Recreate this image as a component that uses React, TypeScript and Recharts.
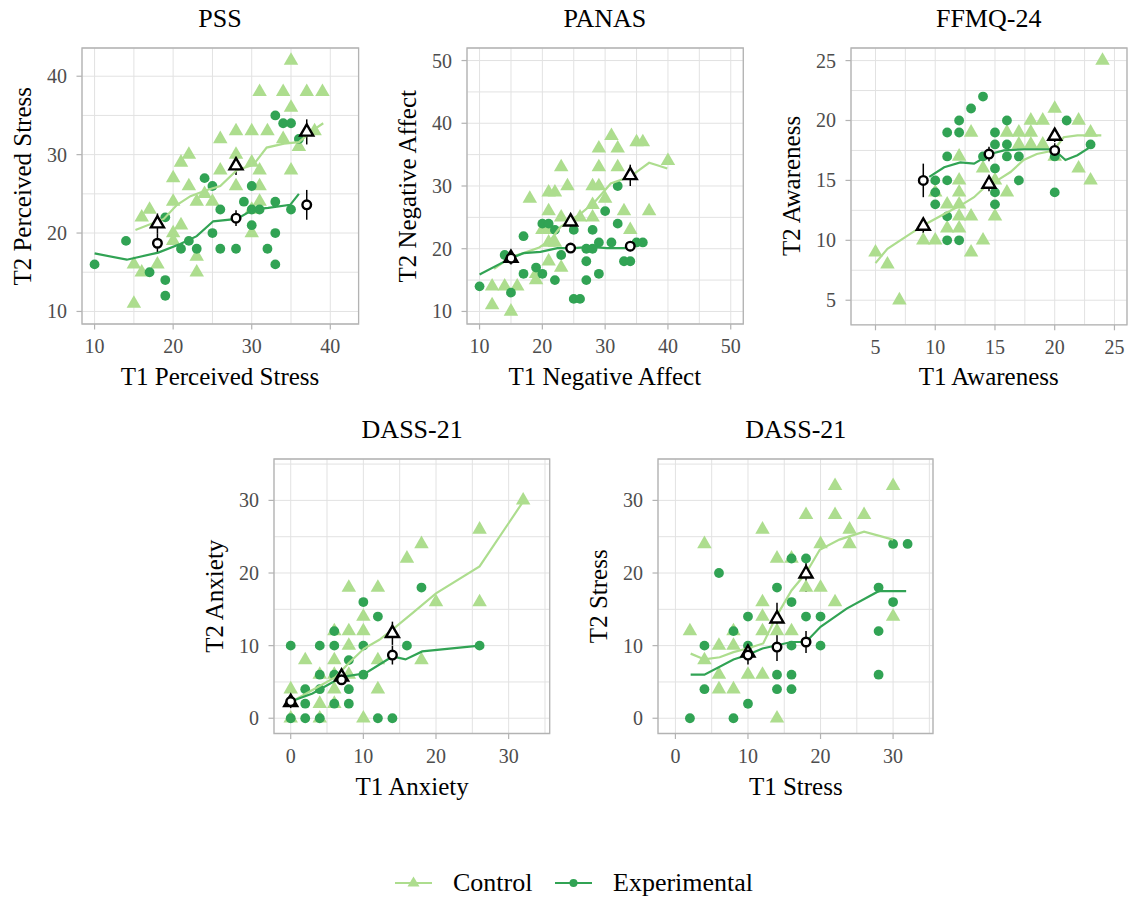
import React from "react";
import { ScatterChart, Scatter, XAxis, YAxis, CartesianGrid, ErrorBar, ReferenceArea } from "recharts";

const LIGHT = "#addd8e";
const DARK = "#31a354";
const FONT = "'Liberation Serif', 'Times New Roman', serif";
const GRID = "#e2e2e2";
const BORDER = "#b3b3b3";
const LEFT_PAD = 80;
const TOP_PAD = 10;

// ---- PSS ----
const pssCtrl = [[35,42],[31,38],[34,38],[37,38],[39,38],[35,36],[26,32],[28,33],[30,33],[32,33],[34,32],[36,31],[38,33],[21,29],[22,30],[28,30],[26,28],[30,29],[31,28],[35,28],[20,27],[22,26],[28,26],[31,26],[24,25],[20,24],[23,24],[25,24],[31,24],[30,23],[16,22],[17,23],[21,21],[20,20],[20,19],[30,20],[15,16],[16,15],[18,16],[23,17],[23,15],[15,11]];
const pssExp = [[10,16],[14,19],[17,15],[19,14],[19,12],[19,22],[21,18],[22,19],[23,18],[25,20],[26,23],[26,18],[28,18],[24,27],[25,26],[29,24],[30,26],[30,23],[31,23],[30,21],[33,24],[33,20],[32,18],[33,16],[35,23],[33,35],[34,34],[35,34],[36,32]];
const pssCtrlLine = [[15.2,20.4],[18.8,21.8],[20.5,23.6],[22.2,24.7],[24.3,25.5],[26,26],[28.1,28],[30.2,28.7],[31.9,30.9],[34.1,31.4],[36,31.6],[37.9,33.2],[39.1,34]];
const pssExpLine = [[10,17.4],[14.1,16.6],[18.1,17.5],[20.9,18.6],[23,19.6],[25.1,21.5],[28.1,21.8],[30.2,23],[32.1,23.2],[34.9,23.6],[36,25]];
const pssCtrlMean = [[18,21.2,1.3],[28,28.6,1.2],[37,32.9,1.6]];
const pssExpMean = [[18,18.7,1.2],[28,21.9,1.0],[37,23.6,1.9]];

// ---- PANAS ----
const panasCtrl = [[31,38],[35,37],[36,37],[29,36],[32,36],[23,33],[29,33],[32,33],[40,34],[21,29],[22,29],[24,30],[28,30],[29,30],[18,28],[30,28],[28,27],[21,26],[33,26],[37,26],[28,25],[23,25],[26,25],[34,23],[20,23],[21,23],[21,21],[22,21],[21,18],[23,17],[19,16],[19,15],[12,14],[14,14],[16,14],[12,11],[15,10]];
const panasExp = [[32,30],[30,26],[32,24],[28,23],[20,24],[21,24],[22,23],[25,23],[17,22],[29,21],[31,21],[35,21],[36,21],[27,20],[28,20],[14,19],[23,19],[27,18],[33,18],[34,18],[19,17],[17,16],[20,16],[29,16],[22,15],[27,15],[10,14],[15,13],[25,12],[26,12]];
const panasCtrlLine = [[12.3,16.8],[15,18.7],[17,19.3],[19.5,20.2],[21.3,21.4],[22.9,23.5],[26.1,25.6],[28.3,27.4],[30.9,30.4],[34,31.5],[37,33.7],[38.3,33.3],[39.9,32.8]];
const panasExpLine = [[10,15.9],[15,18.5],[17,19.3],[19.7,19.5],[22.4,20.1],[25,20.1],[27.7,20.3],[30.3,20.1],[33.5,20.1],[36.2,21.1]];
const panasCtrlMean = [[15,18.5,1.0],[24.5,24.3,1.0],[34,31.7,1.7]];
const panasExpMean = [[15,18.5,0.8],[24.5,20.1,0.7],[34,20.4,0.8]];

// ---- FFMQ-24 ----
const ffmqCtrl = [[24,25],[20,21],[18,20],[19,20],[22,20],[13,19],[16,19],[17,19],[18,19],[23,19],[17,18],[18,18],[19,18],[12,17],[14,16],[20,17],[22,16],[23,15],[12,15],[12,14],[10,14],[12,13],[11,13],[13,12],[12,12],[15,12],[16,14],[11,11],[12,11],[9,10],[10,10],[14,10],[13,9],[5,9],[6,8],[7,5],[15,15]];
const ffmqExp = [[14,22],[13,21],[12,20],[16,20],[21,20],[11,19],[12,19],[15,19],[15,18],[16,18],[11,17],[14,17],[16,17],[17,17],[20,17],[23,18],[10,15],[11,15],[17,15],[10,14],[10,13],[15,16],[15,14],[15,13],[11,12],[11,10],[12,10],[20,14]];
const ffmqCtrlLine = [[5,8.1],[6,9.3],[8,10.6],[9.1,11.3],[10.75,12.2],[12.1,12.9],[13.25,13.6],[14.1,14.4],[15.2,15],[16.3,15.7],[17.4,16.7],[18.5,17.2],[19.9,17.5],[20.75,18.6],[21.9,18.75],[23.9,18.75]];
const ffmqExpLine = [[9.5,15.3],[10.75,16.1],[12.1,16.5],[13.25,16.4],[14.6,17.2],[15.75,17.5],[17.4,17.6],[19.9,17.6],[20.9,16.7],[21.9,17.1],[23,17.8]];
const ffmqCtrlMean = [[9,11.2,0.6],[14.5,14.7,0.6],[20,18.7,0.5]];
const ffmqExpMean = [[9,15,1.4],[14.5,17.2,0.6],[20,17.5,0.6]];

// ---- DASS-21 Anxiety ----
const anxCtrl = [[32,30],[26,26],[18,24],[16,22],[8,18],[12,18],[26,16],[20,16],[10,14],[6,12],[8,12],[10,12],[8,10],[2,8],[6,8],[12,8],[18,8],[4,6],[6,6],[8,6],[0,4],[6,4],[12,4],[4,2],[6,2],[0,0],[4,0],[10,0]];
const anxExp = [[18,18],[10,16],[12,14],[6,12],[0,10],[4,10],[6,10],[10,10],[16,10],[26,10],[8,8],[4,6],[6,6],[10,6],[2,4],[4,4],[8,4],[2,2],[6,2],[8,2],[0,0],[2,0],[4,0],[12,0],[14,0]];
const anxCtrlLine = [[0,2.2],[3,3.9],[6.2,5.7],[8,7.6],[10.1,9.6],[12.2,10.8],[14,12.2],[16.8,14.5],[20,17.2],[26,20.9],[31.9,29.7]];
const anxExpLine = [[0,2.3],[3,3.4],[7.1,5.7],[10.3,6.2],[14,8.5],[15.8,8.1],[18.1,9.2],[26,10]];
const anxCtrlMean = [[0,2.2,0.8],[7,5.7,0.9],[14,11.7,1.6]];
const anxExpMean = [[0,2.3,0.5],[7,5.3,0.6],[14,8.7,1.3]];

// ---- DASS-21 Stress ----
const strCtrl = [[22,32],[30,32],[18,28],[22,28],[26,28],[12,26],[24,26],[4,24],[20,24],[24,24],[14,22],[16,22],[18,18],[20,18],[12,16],[22,16],[12,14],[30,14],[2,12],[8,12],[12,12],[14,12],[16,12],[6,10],[8,10],[4,8],[6,6],[10,6],[12,6],[6,4],[8,4],[14,0]];
const strExp = [[30,24],[32,24],[16,22],[18,22],[6,20],[14,18],[28,18],[16,16],[30,16],[10,14],[18,14],[20,14],[8,12],[28,12],[4,10],[10,10],[16,10],[20,10],[14,6],[16,6],[28,6],[4,4],[14,4],[16,4],[10,2],[2,0],[8,0]];
const strCtrlLine = [[2.1,8.9],[4,8.1],[6.1,8.4],[8,9.1],[9.9,9.6],[12.1,10.3],[13.9,14],[16,17.6],[18,20],[19.9,23.2],[22.6,24.6],[26,25.7],[30,24.6]];
const strExpLine = [[2.1,6],[4,6],[8,8.1],[9.9,8.7],[12,9.6],[16,10.5],[18,10.5],[20,12.6],[23.6,15.1],[28,17.5],[31.8,17.5]];
const strCtrlMean = [[10,9,0.9],[14,13.7,2.2],[18,19.9,2.5]];
const strExpMean = [[10,8.7,1.3],[14,9.8,1.9],[18,10.5,1.5]];

const toPts = (a: number[][]) => a.map(([x, y]) => ({ x, y }));
const toMeans = (a: number[][]) => a.map(([x, y, e]) => ({ x, y, e }));

const NoShape = () => <g />;

const CtrlTri = (p: any) => {
  const { cx, cy } = p;
  if (cx == null || cy == null) return <g />;
  const a = 14.5;
  const h = a * 0.866;
  return (
    <polygon
      points={`${cx},${cy - (h * 2) / 3} ${cx - a / 2},${cy + h / 3} ${cx + a / 2},${cy + h / 3}`}
      fill={LIGHT}
    />
  );
};

const ExpDot = (p: any) => {
  const { cx, cy } = p;
  if (cx == null || cy == null) return <g />;
  return <circle cx={cx} cy={cy} r={4.9} fill={DARK} />;
};

const MeanTri = (p: any) => {
  const { cx, cy } = p;
  if (cx == null || cy == null) return <g />;
  const a = 13;
  const h = a * 0.866;
  return (
    <polygon
      points={`${cx},${cy - (h * 2) / 3} ${cx - a / 2},${cy + h / 3} ${cx + a / 2},${cy + h / 3}`}
      fill="#fff"
      stroke="#000"
      strokeWidth={2.4}
      strokeLinejoin="miter"
    />
  );
};

const MeanDot = (p: any) => {
  const { cx, cy } = p;
  if (cx == null || cy == null) return <g />;
  return <circle cx={cx} cy={cy} r={4.3} fill="#fff" stroke="#000" strokeWidth={2.4} />;
};

interface PanelProps {
  pl: number;
  pt: number;
  w: number;
  h: number;
  xd: [number, number];
  yd: [number, number];
  major: number[];
  minor: number[];
  ctrl: number[][];
  exp: number[][];
  ctrlLine: number[][];
  expLine: number[][];
  ctrlMean: number[][];
  expMean: number[][];
}

function Panel(props: PanelProps) {
  const { pl, pt, w, h, xd, yd, major, minor } = props;
  const allTicks = [...major, ...minor].sort((a, b) => a - b);
  const bottom = TOP_PAD + h;

  const XTick = (t: any) => {
    const v = t.payload?.value;
    if (!major.includes(v)) return <g />;
    return (
      <g>
        <line x1={t.x} x2={t.x} y1={bottom} y2={bottom + 5.5} stroke={BORDER} strokeWidth={1.2} />
        <text x={t.x} y={bottom + 29.5} textAnchor="middle" fontSize={20} fill="#4d4d4d" fontFamily={FONT}>
          {v}
        </text>
      </g>
    );
  };

  const YTick = (t: any) => {
    const v = t.payload?.value;
    if (!major.includes(v)) return <g />;
    return (
      <g>
        <line x1={LEFT_PAD - 5.5} x2={LEFT_PAD} y1={t.y} y2={t.y} stroke={BORDER} strokeWidth={1.2} />
        <text x={LEFT_PAD - 15} y={t.y} dy="0.35em" textAnchor="end" fontSize={20} fill="#4d4d4d" fontFamily={FONT}>
          {v}
        </text>
      </g>
    );
  };

  return (
    <div style={{ position: "absolute", left: pl - LEFT_PAD, top: pt - TOP_PAD }}>
      <ScatterChart
        width={LEFT_PAD + w + 10}
        height={TOP_PAD + h + 40}
        margin={{ top: TOP_PAD, right: 10, left: 0, bottom: 0 }}
      >
        <CartesianGrid stroke={GRID} strokeWidth={1} />
        <XAxis
          type="number"
          dataKey="x"
          domain={xd}
          ticks={allTicks}
          interval={0}
          allowDataOverflow
          axisLine={false}
          tickLine={false}
          tick={XTick}
          height={40}
        />
        <YAxis
          type="number"
          dataKey="y"
          domain={yd}
          ticks={allTicks}
          interval={0}
          allowDataOverflow
          axisLine={false}
          tickLine={false}
          tick={YTick}
          width={LEFT_PAD}
        />
        <ReferenceArea
          x1={xd[0]}
          x2={xd[1]}
          y1={yd[0]}
          y2={yd[1]}
          fill="none"
          stroke={BORDER}
          strokeWidth={1.3}
        />
        <Scatter data={toPts(props.ctrl)} shape={CtrlTri} isAnimationActive={false} />
        <Scatter data={toPts(props.exp)} shape={ExpDot} isAnimationActive={false} />
        <Scatter
          data={toPts(props.ctrlLine)}
          line={{ stroke: LIGHT, strokeWidth: 2.2 }}
          shape={NoShape}
          isAnimationActive={false}
        />
        <Scatter
          data={toPts(props.expLine)}
          line={{ stroke: DARK, strokeWidth: 2.2 }}
          shape={NoShape}
          isAnimationActive={false}
        />
        <Scatter data={toMeans(props.ctrlMean)} shape={MeanTri} isAnimationActive={false}>
          <ErrorBar dataKey="e" direction="y" width={0} stroke="#000" strokeWidth={1.5} />
        </Scatter>
        <Scatter data={toMeans(props.expMean)} shape={MeanDot} isAnimationActive={false}>
          <ErrorBar dataKey="e" direction="y" width={0} stroke="#000" strokeWidth={1.5} />
        </Scatter>
      </ScatterChart>
    </div>
  );
}

const panels: (PanelProps & { title: string; xlab: string; ylab: string })[] = [
  {
    title: "PSS", xlab: "T1 Perceived Stress", ylab: "T2 Perceived Stress",
    pl: 81.7, pt: 48.3, w: 276.6, h: 276, xd: [8.4, 43.6], yd: [8.4, 43.6],
    major: [10, 20, 30, 40], minor: [15, 25, 35],
    ctrl: pssCtrl, exp: pssExp, ctrlLine: pssCtrlLine, expLine: pssExpLine, ctrlMean: pssCtrlMean, expMean: pssExpMean,
  },
  {
    title: "PANAS", xlab: "T1 Negative Affect", ylab: "T2 Negative Affect",
    pl: 466.7, pt: 48.3, w: 276.3, h: 276, xd: [8, 52], yd: [8, 52],
    major: [10, 20, 30, 40, 50], minor: [15, 25, 35, 45],
    ctrl: panasCtrl, exp: panasExp, ctrlLine: panasCtrlLine, expLine: panasExpLine, ctrlMean: panasCtrlMean, expMean: panasExpMean,
  },
  {
    title: "FFMQ-24", xlab: "T1 Awareness", ylab: "T2 Awareness",
    pl: 850.7, pt: 47.5, w: 276, h: 276.8, xd: [2.95, 26.05], yd: [2.95, 26.05],
    major: [5, 10, 15, 20, 25], minor: [7.5, 12.5, 17.5, 22.5],
    ctrl: ffmqCtrl, exp: ffmqExp, ctrlLine: ffmqCtrlLine, expLine: ffmqExpLine, ctrlMean: ffmqCtrlMean, expMean: ffmqExpMean,
  },
  {
    title: "DASS-21", xlab: "T1 Anxiety", ylab: "T2 Anxiety",
    pl: 274.3, pt: 459, w: 275.7, h: 274.5, xd: [-2.3, 35.65], yd: [-2.1, 35.7],
    major: [0, 10, 20, 30], minor: [5, 15, 25, 35],
    ctrl: anxCtrl, exp: anxExp, ctrlLine: anxCtrlLine, expLine: anxExpLine, ctrlMean: anxCtrlMean, expMean: anxExpMean,
  },
  {
    title: "DASS-21", xlab: "T1 Stress", ylab: "T2 Stress",
    pl: 658.3, pt: 459, w: 275, h: 274.5, xd: [-2.4, 35.5], yd: [-2.1, 35.7],
    major: [0, 10, 20, 30], minor: [5, 15, 25, 35],
    ctrl: strCtrl, exp: strExp, ctrlLine: strCtrlLine, expLine: strExpLine, ctrlMean: strCtrlMean, expMean: strExpMean,
  },
];

export default function App() {
  return (
    <div style={{ position: "absolute", left: 0, top: 0, width: 1135, height: 899, background: "#fff" }}>
      {panels.map((p, i) => (
        <Panel key={i} {...p} />
      ))}
      <svg
        width={1135}
        height={899}
        style={{ position: "absolute", left: 0, top: 0, pointerEvents: "none" }}
        fontFamily={FONT}
      >
        {panels.map((p, i) => {
          const cx = p.pl + p.w / 2;
          const cy = p.pt + p.h / 2;
          const pb = p.pt + p.h;
          return (
            <g key={i}>
              <text x={cx} y={p.pt - 21} textAnchor="middle" fontSize={26} fill="#000">
                {p.title}
              </text>
              <text x={cx} y={pb + 61} textAnchor="middle" fontSize={25} fill="#000">
                {p.xlab}
              </text>
              <text
                transform={`translate(${p.pl - 51},${cy}) rotate(-90)`}
                textAnchor="middle"
                fontSize={25}
                fill="#000"
              >
                {p.ylab}
              </text>
            </g>
          );
        })}
        <g>
          <line x1={395} x2={432} y1={883} y2={883} stroke={LIGHT} strokeWidth={2.2} />
          <polygon points="413.5,876.5 407.5,886.5 419.5,886.5" fill={LIGHT} />
          <text x={453} y={891} fontSize={26} fill="#000">Control</text>
          <line x1={555} x2={592} y1={883} y2={883} stroke={DARK} strokeWidth={2.2} />
          <circle cx={573.5} cy={883} r={4} fill={DARK} />
          <text x={613} y={891} fontSize={26} fill="#000">Experimental</text>
        </g>
      </svg>
    </div>
  );
}
